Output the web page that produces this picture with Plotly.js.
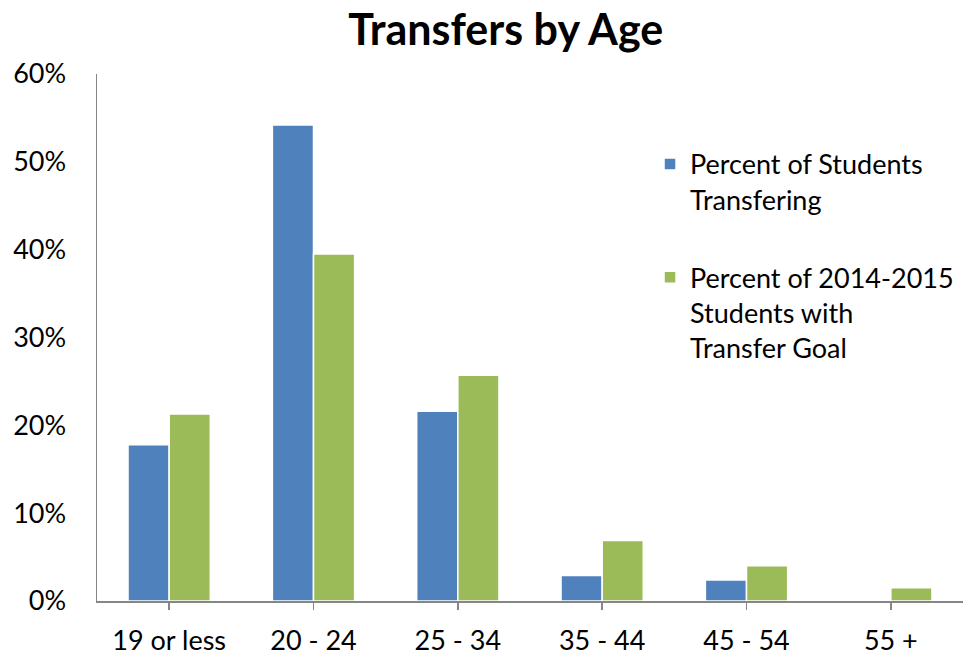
<!DOCTYPE html>
<html>
<head>
<meta charset="utf-8">
<script src="https://cdn.plot.ly/plotly-3.0.1.min.js"></script>
<style>html,body{margin:0;padding:0;background:#fff;}#chart{width:971px;height:659px;}</style>
</head>
<body>
<div id="chart"></div>
<script>
const categories = ["19 or less", "20 - 24", "25 - 34", "35 - 44", "45 - 54", "55 +"];
const transferring = [17.8, 54.2, 21.6, 2.9, 2.4, 0.0];
const transferGoal = [21.3, 39.5, 25.7, 6.9, 4.0, 1.5];
const seriesNames = ["Percent of Students<br>Transfering", "Percent of 2014-2015<br>Students with<br>Transfer Goal"];
const yTickVals = [0, 10, 20, 30, 40, 50, 60];
const yTickText = ["0%", "10%", "20%", "30%", "40%", "50%", "60%"];

const font = "Lato, 'Open Sans', sans-serif";
const traces = [
  {type: "bar", x: categories, y: transferring, name: seriesNames[0], legendgroup: "a",
   marker: {color: "#4F81BD", line: {color: "#ffffff", width: 1.5}}},
  {type: "bar", x: categories, y: transferGoal, name: seriesNames[1], legendgroup: "b",
   marker: {color: "#9BBB59", line: {color: "#ffffff", width: 1.5}}}
];
const layout = {
  width: 971, height: 659,
  margin: {l: 97, r: 8, t: 74, b: 58},
  paper_bgcolor: "#fff", plot_bgcolor: "#fff",
  font: {family: font, color: "#000", size: 27},
  title: {text: "<b>Transfers by Age</b>", font: {family: font, size: 43, color: "#000"},
          x: 0.472, xref: "paper", xanchor: "center", y: 0.955, yanchor: "middle"},
  barmode: "group", bargap: 0.43, bargroupgap: 0.0,
  showlegend: true,
  legend: {x: 0.6386, y: 0.875, xanchor: "left", yanchor: "top", valign: "top",
           font: {family: font, size: 27}, tracegroupgap: 40,
           bgcolor: "rgba(0,0,0,0)", itemwidth: 30},
  xaxis: {showline: true, linecolor: "#868686", linewidth: 1.5, ticks: "outside", ticklen: 7,
          tickcolor: "#868686", tickwidth: 1.5, showgrid: false, zeroline: false,
          tickfont: {family: font, size: 27}, ticklabelstandoff: 8},
  yaxis: {range: [0, 60], tickvals: yTickVals, ticktext: yTickText, showline: true,
          linecolor: "#868686", linewidth: 1.5, ticks: "", showgrid: false, zeroline: false,
          tickfont: {family: font, size: 27}, ticklabelstandoff: 24}
};
Plotly.newPlot("chart", traces, layout, {displayModeBar: false, staticPlot: true});
</script>
</body>
</html>
